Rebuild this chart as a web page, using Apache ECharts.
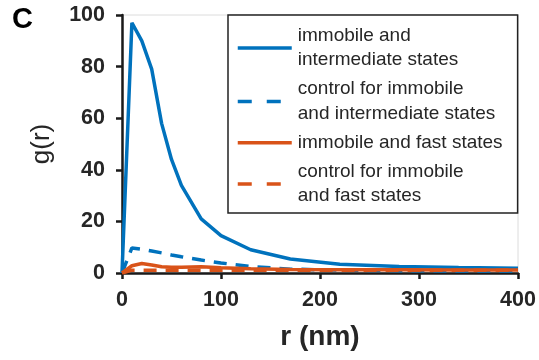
<!DOCTYPE html>
<html>
<head>
<meta charset="utf-8">
<script src="https://cdn.jsdelivr.net/npm/echarts@6/dist/echarts.min.js"></script>
<style>
  html, body { margin: 0; padding: 0; background: #fff; }
  #chart { width: 539px; height: 360px; }
</style>
</head>
<body>
<div id="chart"></div>
<script>
// Pair correlation g(r) versus distance r (nm)
const radius = [0, 10, 20, 30, 40, 50, 60, 80, 100, 130, 170, 220, 280, 340, 400];
const immobileIntermediate = [0, 97, 90, 79, 58, 44, 34, 21, 14.5, 9, 5.4, 3.4, 2.5, 2.1, 1.8];
const controlIntermediate = [0, 9.7, 9.2, 8.5, 7.8, 7, 6.3, 5, 3.9, 2.5, 1.5, 1.1, 0.9, 0.8, 0.8];
const immobileFast = [0, 2.8, 3.7, 3.1, 2.4, 2.2, 2.2, 2.4, 2.0, 1.6, 1.4, 1.3, 1.3, 1.2, 1.2];
const controlFast = [0, 1.1, 1.1, 1.1, 1.1, 1.1, 1.1, 1.1, 1.1, 1.1, 1.1, 1.1, 1.1, 1.1, 1.1];
const xTicks = [0, 100, 200, 300, 400];
const yTicks = [0, 20, 40, 60, 80, 100];
const seriesNames = [
  'immobile and\nintermediate states',
  'control for immobile\nand intermediate states',
  'immobile and fast states',
  'control for immobile\nand fast states'
];
const dashedFlags = [false, true, false, true];

const BLUE = '#0072BD';
const ORANGE = '#D95319';
const FONT = 'Liberation Sans, Arial, sans-serif';
const pair = (ys) => radius.map((r, i) => [r, ys[i]]);

function lineSeries(name, ys, color, dashed) {
  return {
    name: name,
    type: 'line',
    data: pair(ys),
    symbol: 'none',
    showSymbol: false,
    lineStyle: { color: color, width: 3.5, type: dashed ? [13, 9] : 'solid' },
    itemStyle: { color: color },
    z: 3
  };
}

const chart = echarts.init(document.getElementById('chart'), null, { renderer: 'canvas' });
chart.setOption({
  animation: false,
  backgroundColor: '#fff',
  textStyle: { fontFamily: FONT },
  grid: {
    left: 122, right: 21, top: 15, bottom: 87,
    show: true, borderColor: '#dcdcdc', borderWidth: 1
  },
  xAxis: {
    type: 'value',
    min: xTicks[0], max: xTicks[xTicks.length - 1], interval: xTicks[1] - xTicks[0],
    name: 'r (nm)',
    nameLocation: 'middle',
    nameGap: 50,
    nameTextStyle: { fontSize: 28, fontWeight: 'bold', color: '#262626' },
    axisLine: { show: true, lineStyle: { color: '#1a1a1a', width: 2.5 } },
    axisTick: { show: true, inside: false, length: 6, lineStyle: { color: '#1a1a1a', width: 2.5 } },
    axisLabel: { fontSize: 21.5, fontWeight: 'bold', color: '#262626', margin: 16 },
    splitLine: { show: false }
  },
  yAxis: {
    type: 'value',
    min: yTicks[0], max: yTicks[yTicks.length - 1], interval: yTicks[1] - yTicks[0],
    name: 'g(r)',
    nameLocation: 'middle',
    nameGap: 67,
    nameRotate: 90,
    nameTextStyle: { fontSize: 26, color: '#262626' },
    axisLine: { show: true, lineStyle: { color: '#1a1a1a', width: 2.5 } },
    axisTick: { show: true, inside: false, length: 6, lineStyle: { color: '#1a1a1a', width: 2.5 } },
    axisLabel: { fontSize: 21.5, fontWeight: 'bold', color: '#262626', margin: 17 },
    splitLine: { show: false }
  },
  legend: {
    orient: 'vertical',
    left: 228,
    top: 15,
    padding: [8.5, 15, 4.5, 8],
    itemGap: 4.5,
    itemWidth: 54,
    itemHeight: 14,
    backgroundColor: '#fff',
    borderColor: '#222',
    borderWidth: 1.5,
    borderRadius: 0,
    itemStyle: { opacity: 0 },
    textStyle: { fontSize: 19, color: '#262626', lineHeight: 24.5, padding: [0, 0, 0, 1] },
    data: seriesNames.map((n, i) => ({
      name: n,
      itemStyle: { opacity: 0 },
      lineStyle: { width: 3.5, type: dashedFlags[i] ? [14, 15] : 'solid' }
    }))
  },
  graphic: [
    {
      type: 'text', left: 12, top: 5,
      style: { text: 'C', fontSize: 29, fontWeight: 'bold', fill: '#000', fontFamily: FONT }
    }
  ],
  series: [
    lineSeries(seriesNames[0], immobileIntermediate, BLUE, dashedFlags[0]),
    lineSeries(seriesNames[1], controlIntermediate, BLUE, dashedFlags[1]),
    lineSeries(seriesNames[2], immobileFast, ORANGE, dashedFlags[2]),
    lineSeries(seriesNames[3], controlFast, ORANGE, dashedFlags[3])
  ]
});
</script>
</body>
</html>
